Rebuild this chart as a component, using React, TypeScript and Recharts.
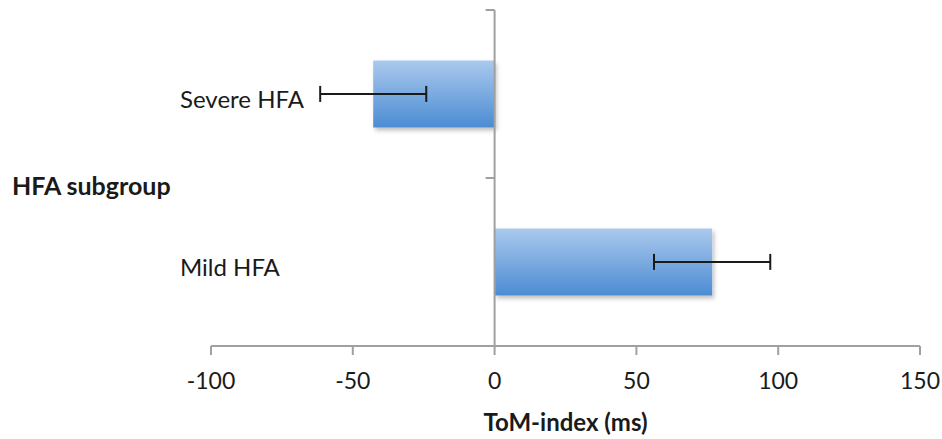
import React from 'react';
import { BarChart, Bar, XAxis, YAxis, ErrorBar, ReferenceLine, Label } from 'recharts';

const categories = ['Severe HFA', 'Mild HFA'];
const tomIndex = [-42.8, 76.7];
const tomError = [18.7, 20.5];
const xTicks = [-100, -50, 0, 50, 100, 150];

const data = categories.map((c, i) => ({ name: c, value: tomIndex[i], err: tomError[i] }));

const FONT = 'Lato, "Open Sans", sans-serif';

const CategoryTick = (props: any) => {
  const { y, payload } = props;
  return (
    <text x={180} y={y} dy={4} dominantBaseline="central" textAnchor="start" fontFamily={FONT} fontSize={24} fill="#1a1a1a">
      {payload.value}
    </text>
  );
};

const ZeroAxis = (props: any) => {
  const { x1, y1, y2 } = props;
  const top = Math.min(y1, y2);
  const bottom = Math.max(y1, y2);
  const mid = (top + bottom) / 2;
  return (
    <g stroke="#a0a0a0" strokeWidth={2}>
      <line x1={x1} y1={top} x2={x1} y2={bottom} />
      <line x1={x1 - 9} y1={top} x2={x1} y2={top} />
      <line x1={x1 - 9} y1={mid} x2={x1} y2={mid} />
      <line x1={x1 - 9} y1={bottom} x2={x1} y2={bottom} />
    </g>
  );
};

export default function App() {
  return (
    <div style={{ position: 'absolute', left: 0, top: 0, background: '#fff' }}>
      <BarChart
        width={942}
        height={439}
        data={data}
        layout="vertical"
        margin={{ top: 10, right: 22, bottom: 63, left: 171 }}
        barCategoryGap="30%"
      >
        <defs>
          <linearGradient id="barGrad" x1="0" y1="0" x2="0" y2="1">
            <stop offset="0%" stopColor="#abc9ed" />
            <stop offset="100%" stopColor="#4b8cd3" />
          </linearGradient>
          <filter id="shadow" x="-10%" y="-10%" width="130%" height="140%">
            <feDropShadow dx="2" dy="3" stdDeviation="2" floodColor="#000" floodOpacity="0.25" />
          </filter>
        </defs>
        <XAxis
          type="number"
          domain={[-100, 150]}
          ticks={xTicks}
          allowDataOverflow
          height={30}
          stroke="#a0a0a0"
          strokeWidth={2}
          tickSize={9}
          tickMargin={18}
          tick={{ fontFamily: FONT, fontSize: 23, fill: '#1a1a1a' }}
        >
          <Label
            content={(p: any) => {
              const vb = p.viewBox;
              return (
                <text x={vb.x + vb.width / 2} y={431} textAnchor="middle" fontFamily={FONT} fontWeight="bold" fontSize={24} fill="#1a1a1a">
                  ToM-index (ms)
                </text>
              );
            }}
          />
        </XAxis>
        <YAxis
          type="category"
          dataKey="name"
          width={40}
          axisLine={false}
          tickLine={false}
          tick={<CategoryTick />}
        >
          <Label
            content={(p: any) => {
              const vb = p.viewBox;
              return (
                <text x={12} y={vb.y + vb.height / 2 + 7} dominantBaseline="central" textAnchor="start" fontFamily={FONT} fontWeight="bold" fontSize={25} fill="#1a1a1a">
                  HFA subgroup
                </text>
              );
            }}
          />
        </YAxis>
        <Bar dataKey="value" fill="url(#barGrad)" filter="url(#shadow)" isAnimationActive={false}>
          <ErrorBar dataKey="err" direction="x" width={8} stroke="#1a1a1a" strokeWidth={2} />
        </Bar>
        <ReferenceLine x={0} shape={<ZeroAxis />} />
      </BarChart>
    </div>
  );
}
